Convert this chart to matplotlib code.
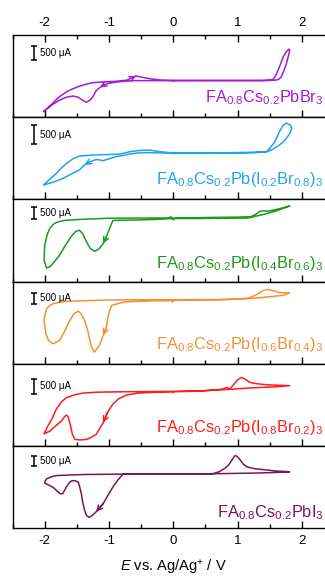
import numpy as np
import matplotlib.pyplot as plt
from matplotlib.ticker import MultipleLocator

plt.rcParams['font.family'] = ['Liberation Sans', 'DejaVu Sans']
plt.rcParams['mathtext.fontset'] = 'custom'
plt.rcParams['mathtext.rm'] = 'Liberation Sans'
plt.rcParams['mathtext.it'] = 'Liberation Sans:italic'
plt.rcParams['axes.unicode_minus'] = False

# cyclic voltammograms: E in V vs Ag/Ag+, current in uA
# each scan: fwd 0 -> -2 V, rev -2 -> +1.8 V, back +1.8 -> 0 V

# FA0.8Cs0.2PbBr3
pbbr3_fwd_v = [0, -0.3, -0.63, -0.85, -0.99, -1.07, -1.14, -1.2, -1.25, -1.3, -1.35, -1.41,
               -1.48, -1.56, -1.66, -1.78, -1.9, -2.02]
pbbr3_fwd_i = [0, 0, 0, -40, -90, -140, -240, -360, -570, -710, -770, -700,
               -590, -550, -590, -710, -890, -1110]
pbbr3_rev_v = [-1.9, -1.77, -1.64, -1.51, -1.38, -1.25, -1.05, -0.88, -0.72, -0.63, -0.58, -0.52,
               -0.42, -0.2, 0, 0.5, 1.0, 1.4, 1.5, 1.55, 1.59, 1.63, 1.67, 1.71, 1.76, 1.80]
pbbr3_rev_i = [-860, -570, -370, -240, -140, -70, -40, -20, 20, 110, 170, 140,
               90, 20, 10, 10, 10, 10, 20, 40, 180, 380, 610, 860, 1040, 1130]
pbbr3_back_v = [1.81, 1.79, 1.76, 1.72, 1.68, 1.64, 1.6, 1.4, 1.0, 0.5, 0]
pbbr3_back_i = [1070, 890, 620, 360, 140, 50, 20, 0, 0, 0, 0]

# FA0.8Cs0.2Pb(I0.2Br0.8)3
i02_fwd_v = [0, -0.2, -0.4, -0.55, -0.68, -0.8, -0.9, -1.0, -1.09, -1.15, -1.2, -1.3,
             -1.38, -1.46, -1.58, -1.72, -1.86, -2.02]
i02_fwd_i = [0, 10, 20, 10, -20, -60, -90, -140, -190, -170, -160, -220,
             -300, -430, -530, -650, -740, -820]
i02_rev_v = [-1.92, -1.82, -1.74, -1.66, -1.56, -1.46, -1.3, -1.2, -1.0, -0.83, -0.68, -0.55,
             -0.45, -0.37, -0.2, 0, 0.5, 1.0, 1.3, 1.45, 1.5, 1.58, 1.65, 1.71, 1.76, 1.82, 1.84]
i02_rev_i = [-670, -520, -380, -260, -140, -70, -50, -40, -30, -20, 40, 70,
             80, 85, 40, 10, 10, 20, 30, 40, 130, 300, 560, 730, 780, 730, 650]
i02_back_v = [1.82, 1.78, 1.72, 1.65, 1.55, 1.45, 1.2, 0.5, 0]
i02_back_i = [540, 440, 310, 215, 105, 40, 10, 0, 0]

# FA0.8Cs0.2Pb(I0.4Br0.6)3
i04_fwd_v = [0, -0.3, -0.6, -0.85, -0.94, -0.99, -1.04, -1.09, -1.15, -1.22, -1.29, -1.35,
             -1.41, -1.46, -1.52, -1.59, -1.68, -1.77, -1.86, -1.92, -1.97, -2.01]
i04_fwd_i = [0, -40, -60, -70, -80, -400, -720, -1000, -1200, -1310, -1200, -930,
             -600, -470, -520, -730, -1080, -1470, -1760, -1930, -1970, -1670]
i04_rev_v = [-2.0, -1.96, -1.92, -1.87, -1.82, -1.74, -1.66, -1.4, -1.0, -0.5, -0.1, -0.03,
             0, 0.03, 0.1, 0.5, 1.0, 1.2, 1.28, 1.34, 1.4, 1.46, 1.55, 1.65, 1.81]
i04_rev_i = [-1070, -640, -400, -240, -160, -100, -70, -30, 10, 20, 20, 60,
             -50, 20, 20, 40, 55, 70, 160, 280, 310, 290, 330, 390, 500]
i04_back_v = [1.6, 1.4, 1.16, 0.8, 0.4, 0]
i04_back_i = [300, 160, 20, 10, 0, 0]

# FA0.8Cs0.2Pb(I0.6Br0.4)3
i06_fwd_v = [0, -0.01, -0.03, -0.3, -0.6, -0.75, -0.83, -0.9, -0.96, -0.99, -1.02, -1.04,
             -1.09, -1.15, -1.23, -1.28, -1.33, -1.38, -1.43, -1.48, -1.54, -1.61, -1.69, -1.77,
             -1.87, -1.94, -1.98, -2.01]
i06_fwd_i = [0, -70, -10, -20, -50, -70, -120, -180, -230, -460, -820, -1210,
             -1590, -2050, -2350, -2050, -1370, -910, -610, -490, -590, -910, -1410, -1820,
             -1970, -1820, -1520, -910]
i06_rev_v = [-1.99, -1.97, -1.92, -1.87, -1.77, -1.66, -1.4, -1.0, -0.5, 0, 0.5, 1.0,
             1.19, 1.3, 1.4, 1.47, 1.56, 1.65, 1.81]
i06_rev_i = [-590, -380, -230, -150, -90, -45, -15, 20, 30, 30, 35, 55,
             120, 270, 455, 500, 430, 350, 350]
i06_back_v = [1.71, 1.45, 1.19, 0.8, 0.4, 0]
i06_back_i = [230, 150, 80, 35, 15, 0]

# FA0.8Cs0.2Pb(I0.8Br0.2)3
i08_fwd_v = [0, -0.3, -0.55, -0.73, -0.85, -0.94, -1.02, -1.09, -1.15, -1.2, -1.28, -1.35,
             -1.45, -1.53, -1.57, -1.6, -1.64, -1.67, -1.74, -1.83, -1.92, -2.01]
i08_fwd_i = [0, -20, -45, -115, -240, -425, -690, -1060, -1280, -1460, -1570, -1630,
             -1650, -1630, -1450, -1140, -830, -800, -1000, -1170, -1350, -1440]
i08_rev_v = [-1.95, -1.88, -1.82, -1.74, -1.66, -1.53, -1.4, -1.2, -0.8, -0.4, 0, 0.4,
             0.67, 0.78, 0.83, 0.88, 0.94, 1.0, 1.06, 1.12, 1.19, 1.3, 1.45, 1.6, 1.81]
i08_rev_i = [-1170, -900, -600, -345, -200, -100, -45, -15, 0, 5, 15, 30,
             60, 100, 150, 95, 250, 410, 490, 430, 320, 275, 240, 225, 210]
i08_back_v = [1.6, 1.19, 0.9, 0.67, 0.3, 0]
i08_back_i = [170, 130, 85, 60, 15, 0]

# FA0.8Cs0.2PbI3
pbi3_fwd_v = [0, -0.4, -0.78, -0.86, -0.94, -1.02, -1.09, -1.2, -1.26, -1.31, -1.35, -1.38,
              -1.41, -1.43, -1.46, -1.48, -1.53, -1.58, -1.61, -1.66, -1.72, -1.76, -1.79, -1.86,
              -1.92, -2.0]
pbi3_fwd_i = [0, 0, 0, -290, -645, -1070, -1455, -1860, -2040, -2130, -2040, -1780,
              -1360, -970, -580, -400, -325, -340, -400, -630, -970, -970, -890, -680,
              -570, -450]
pbi3_rev_v = [-1.99, -1.97, -1.9, -1.82, -1.6, -1.36, -1.0, -0.5, 0, 0.3, 0.62, 0.72,
              0.8, 0.86, 0.9, 0.93, 0.96, 0.99, 1.03, 1.08, 1.14, 1.25, 1.45, 1.6, 1.81]
pbi3_rev_i = [-340, -240, -145, -80, -50, -25, -15, 0, 0, 0, 15, 120,
              270, 440, 630, 780, 905, 870, 730, 510, 355, 265, 195, 145, 110]
pbi3_back_v = [1.6, 1.3, 1.0, 0.7, 0.3, 0]
pbi3_back_i = [75, 45, 30, 15, 0, 0]

labels = [r'FA$_{0.8}$Cs$_{0.2}$PbBr$_3$',
          r'FA$_{0.8}$Cs$_{0.2}$Pb(I$_{0.2}$Br$_{0.8}$)$_3$',
          r'FA$_{0.8}$Cs$_{0.2}$Pb(I$_{0.4}$Br$_{0.6}$)$_3$',
          r'FA$_{0.8}$Cs$_{0.2}$Pb(I$_{0.6}$Br$_{0.4}$)$_3$',
          r'FA$_{0.8}$Cs$_{0.2}$Pb(I$_{0.8}$Br$_{0.2}$)$_3$',
          r'FA$_{0.8}$Cs$_{0.2}$PbI$_3$']
colors = ['#a31ccf', '#1fa3f0', '#1c9a1c', '#f58f38', '#ff1c1c', '#7a1650']

scans = [
    (pbbr3_fwd_v, pbbr3_fwd_i, pbbr3_rev_v, pbbr3_rev_i, pbbr3_back_v, pbbr3_back_i),
    (i02_fwd_v, i02_fwd_i, i02_rev_v, i02_rev_i, i02_back_v, i02_back_i),
    (i04_fwd_v, i04_fwd_i, i04_rev_v, i04_rev_i, i04_back_v, i04_back_i),
    (i06_fwd_v, i06_fwd_i, i06_rev_v, i06_rev_i, i06_back_v, i06_back_i),
    (i08_fwd_v, i08_fwd_i, i08_rev_v, i08_rev_i, i08_back_v, i08_back_i),
    (pbi3_fwd_v, pbi3_fwd_i, pbi3_rev_v, pbi3_rev_i, pbi3_back_v, pbi3_back_i),
]

# panel layout: y range (uA), top of 500 uA scale bar, label height, arrow positions
ylims = [(-1307, 1631), (-1191, 932), (-2520, 760), (-2880, 850), (-1860, 955), (-2670, 1370)]
bar_top = [1239, 733, 464, 350, 440, 900]
label_y = [0.177, 0.187, 0.166, 0.183, 0.175, 0.139]
arrow_fwd = [6, 12, 7, 12, 7, 7]   # vertex index on the cathodic sweep
arrow_rev = [10, None, None, None, None, None]

fig, axes = plt.subplots(6, 1, figsize=(3.25, 5.77), dpi=100, sharex=True)
fig.subplots_adjust(left=0.0385, right=1.028, top=0.9393, bottom=0.0844, hspace=0)

for k, ax in enumerate(axes):
    fv, fi, rv, ri, bv, bi = scans[k]
    c = colors[k]
    v = fv + rv + bv
    cur = fi + ri + bi
    ax.plot(v, cur, color=c, lw=1.1)

    # direction arrows
    j = arrow_fwd[k]
    ax.annotate('', xy=(fv[j], fi[j]), xytext=(fv[j - 1], fi[j - 1]),
                arrowprops=dict(arrowstyle='->', color=c, lw=1.1, mutation_scale=9,
                                shrinkA=0, shrinkB=0))
    if arrow_rev[k] is not None:
        j = arrow_rev[k]
        ax.annotate('', xy=(rv[j], ri[j]), xytext=(rv[j - 1], ri[j - 1]),
                    arrowprops=dict(arrowstyle='->', color=c, lw=1.1, mutation_scale=9,
                                    shrinkA=0, shrinkB=0))

    # 500 uA scale bar
    mid = bar_top[k] - 250
    ax.errorbar(-2.17, mid, yerr=250, color='k', lw=1.1, capsize=2.2, capthick=1.1)
    ax.text(-2.08, mid, '500 μA', fontsize=7, va='center', ha='left')

    ax.text(0.966, label_y[k], labels[k], transform=ax.transAxes, ha='right',
            va='baseline', fontsize=11.8, color=c)

    ax.set_xlim(-2.5, 2.5)
    ax.set_ylim(*ylims[k])
    ax.set_yticks([])
    ax.xaxis.set_major_locator(MultipleLocator(1))
    ax.xaxis.set_minor_locator(MultipleLocator(0.5))
    ax.tick_params(axis='x', which='both', direction='in', width=1,
                   top=(k == 0), bottom=True, labeltop=(k == 0), labelbottom=(k == 5),
                   labelsize=9.5)
    ax.tick_params(axis='x', which='major', length=5)
    ax.tick_params(axis='x', which='minor', length=3)
    ax.tick_params(axis='x', which='major', pad=4.5)
    for s in ax.spines.values():
        s.set_linewidth(1.0)

axes[-1].set_xlabel(r'$E$ vs. Ag/Ag$^{+}$ / V', fontsize=10.5, labelpad=8.5)

fig.savefig('out.png', dpi=100)
